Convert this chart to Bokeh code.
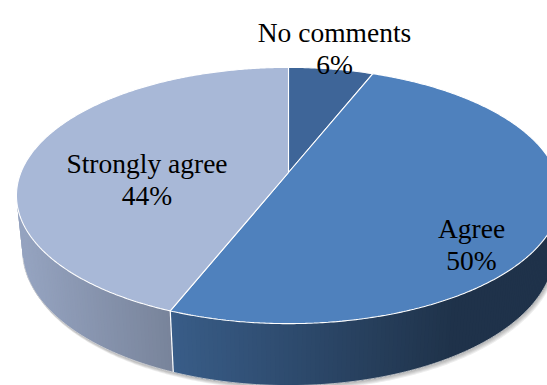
import numpy as np
from bokeh.plotting import figure
from bokeh.models import Range1d, ColumnDataSource
from bokeh.core.properties import value
from bokeh.embed import file_html
from bokeh.resources import INLINE

# ---------------- data ----------------
categories = ["No comments", "Agree", "Strongly agree"]
percents = [6, 50, 44]
top_colors = ["#3E6598", "#4F81BD", "#A8B8D7"]
side_base = [(62, 101, 152), (79, 129, 189), (167, 183, 215)]

# ---------------- layout / style ----------------
W, H = 547, 385
CX, CY = 288.0, 172.0          # projected pie centre (px)
ELEV = np.radians(27.6)        # camera elevation
DIST = 4.934                   # camera distance (radius units)
FOCAL = 1320.4                 # focal scale (px)
THICK = 0.234                  # pie thickness (radius units)
FONT = "Liberation Serif"
FONT_SIZE = "27.5px"
LINE_GAP = 31.5
label_anchor = [(334, 32.3), (471, 228.0), (146.5, 163.3)]

s_e, c_e = np.sin(ELEV), np.cos(ELEV)


def project(x, y, z):
    qx = x
    qy = y - DIST * s_e
    qz = z + DIST * c_e
    d = -qy * s_e + qz * c_e
    up = qy * c_e + qz * s_e
    return CX + FOCAL * qx / d, CY - FOCAL * up / d


def rim(theta_deg, level):
    t = np.radians(theta_deg)
    return project(np.sin(t), np.full_like(t, level, dtype=float), np.cos(t))


def shade(x):
    return np.clip(0.9 - (x - 15.0) * 0.00116, 0.39, 1.0)


def to_hex(rgb, f):
    r, g, b = [int(round(min(255, max(0, v * f)))) for v in rgb]
    return "#%02x%02x%02x" % (r, g, b)


total = float(sum(percents))
bounds = np.concatenate([[0.0], np.cumsum(percents) / total * 360.0])

p = figure(width=W, height=H, x_range=Range1d(0, W), y_range=Range1d(H, 0),
           toolbar_location=None, output_backend="svg", min_border=0)
p.axis.visible = False
p.grid.visible = False
p.outline_line_color = None
p.background_fill_color = "white"
p.border_fill_color = "white"

# silhouette angle for the visible side wall
theta_s = np.degrees(np.arccos(-1.0 / (DIST * c_e)))
front_lo, front_hi = theta_s, 360.0 - theta_s

# ---- soft shadow ----
back = np.linspace(front_hi, front_lo + 360.0, 240)
front = np.linspace(front_lo, front_hi, 240)
bx, by = rim(back, 0.0)
fx, fy = rim(front, -THICK)
sil_x = np.concatenate([fx, bx])
sil_y = np.concatenate([fy, by])
for off in [4.5, 3.5, 2.5, 1.5]:
    p.patch(sil_x + off * 0.6, sil_y + off, fill_color="black", fill_alpha=0.07,
            line_color=None)

# ---- side walls with gradient strips ----
for i in range(len(categories)):
    lo = max(bounds[i], front_lo)
    hi = min(bounds[i + 1], front_hi)
    if hi <= lo:
        continue
    n = max(2, int(np.ceil((hi - lo) / 0.8)))
    th = np.linspace(lo, hi, n + 1)
    tx, ty = rim(th, 0.0)
    ux, uy = rim(th, -THICK)
    # base fill for the whole wall piece (prevents seams)
    mid_col = to_hex(side_base[i], shade(0.5 * (tx[0] + tx[-1])))
    p.patch(np.concatenate([tx, ux[::-1]]), np.concatenate([ty, uy[::-1]]),
            fill_color=mid_col, line_color=None)
    sx_list, sy_list, sc_list = [], [], []
    for k in range(n):
        k2 = min(n, k + 2)   # overlap with the next strip
        xs = list(tx[k:k2 + 1]) + list(ux[k:k2 + 1][::-1])
        ys = list(ty[k:k2 + 1]) + list(uy[k:k2 + 1][::-1])
        xm = 0.5 * (tx[k] + tx[k + 1])
        sx_list.append(xs)
        sy_list.append(ys)
        sc_list.append(to_hex(side_base[i], shade(xm)))
    p.patches(xs=sx_list, ys=sy_list, fill_color=sc_list, line_color=None)

# white seams on the side wall at slice boundaries
for b in bounds[1:-1]:
    if front_lo < b < front_hi:
        x0, y0 = rim(np.array([b]), 0.0)
        x1, y1 = rim(np.array([b]), -THICK)
        p.line([x0[0], x1[0]], [y0[0], y1[0]], line_color="white", line_width=1.2)

# light edge along bottom rim
ex, ey = rim(np.linspace(front_lo, front_hi, 200), -THICK)
p.line(ex, ey, line_color="#d9d9d9", line_width=0.8)

# ---- top face ----
cx0, cy0 = project(0.0, 0.0, 0.0)
txs, tys = [], []
for i in range(len(categories)):
    th = np.linspace(bounds[i], bounds[i + 1], max(3, int((bounds[i + 1] - bounds[i]) / 0.5)))
    ax, ay = rim(th, 0.0)
    txs.append([cx0] + list(ax))
    tys.append([cy0] + list(ay))
p.patches(xs=txs, ys=tys, fill_color=top_colors, line_color="white", line_width=1.1)

# ---- labels ----
names_src = ColumnDataSource(dict(
    x=[a[0] for a in label_anchor], y=[a[1] for a in label_anchor], t=categories))
pct_src = ColumnDataSource(dict(
    x=[a[0] for a in label_anchor], y=[a[1] + LINE_GAP for a in label_anchor],
    t=["%d%%" % round(v / total * 100) for v in percents]))
for src in (names_src, pct_src):
    p.text(x="x", y="y", text="t", source=src, text_font=value(FONT),
           text_font_size=FONT_SIZE, text_align="center",
           text_baseline="alphabetic", text_color="#000000")

open("out.html", "w").write(file_html(p, INLINE))
